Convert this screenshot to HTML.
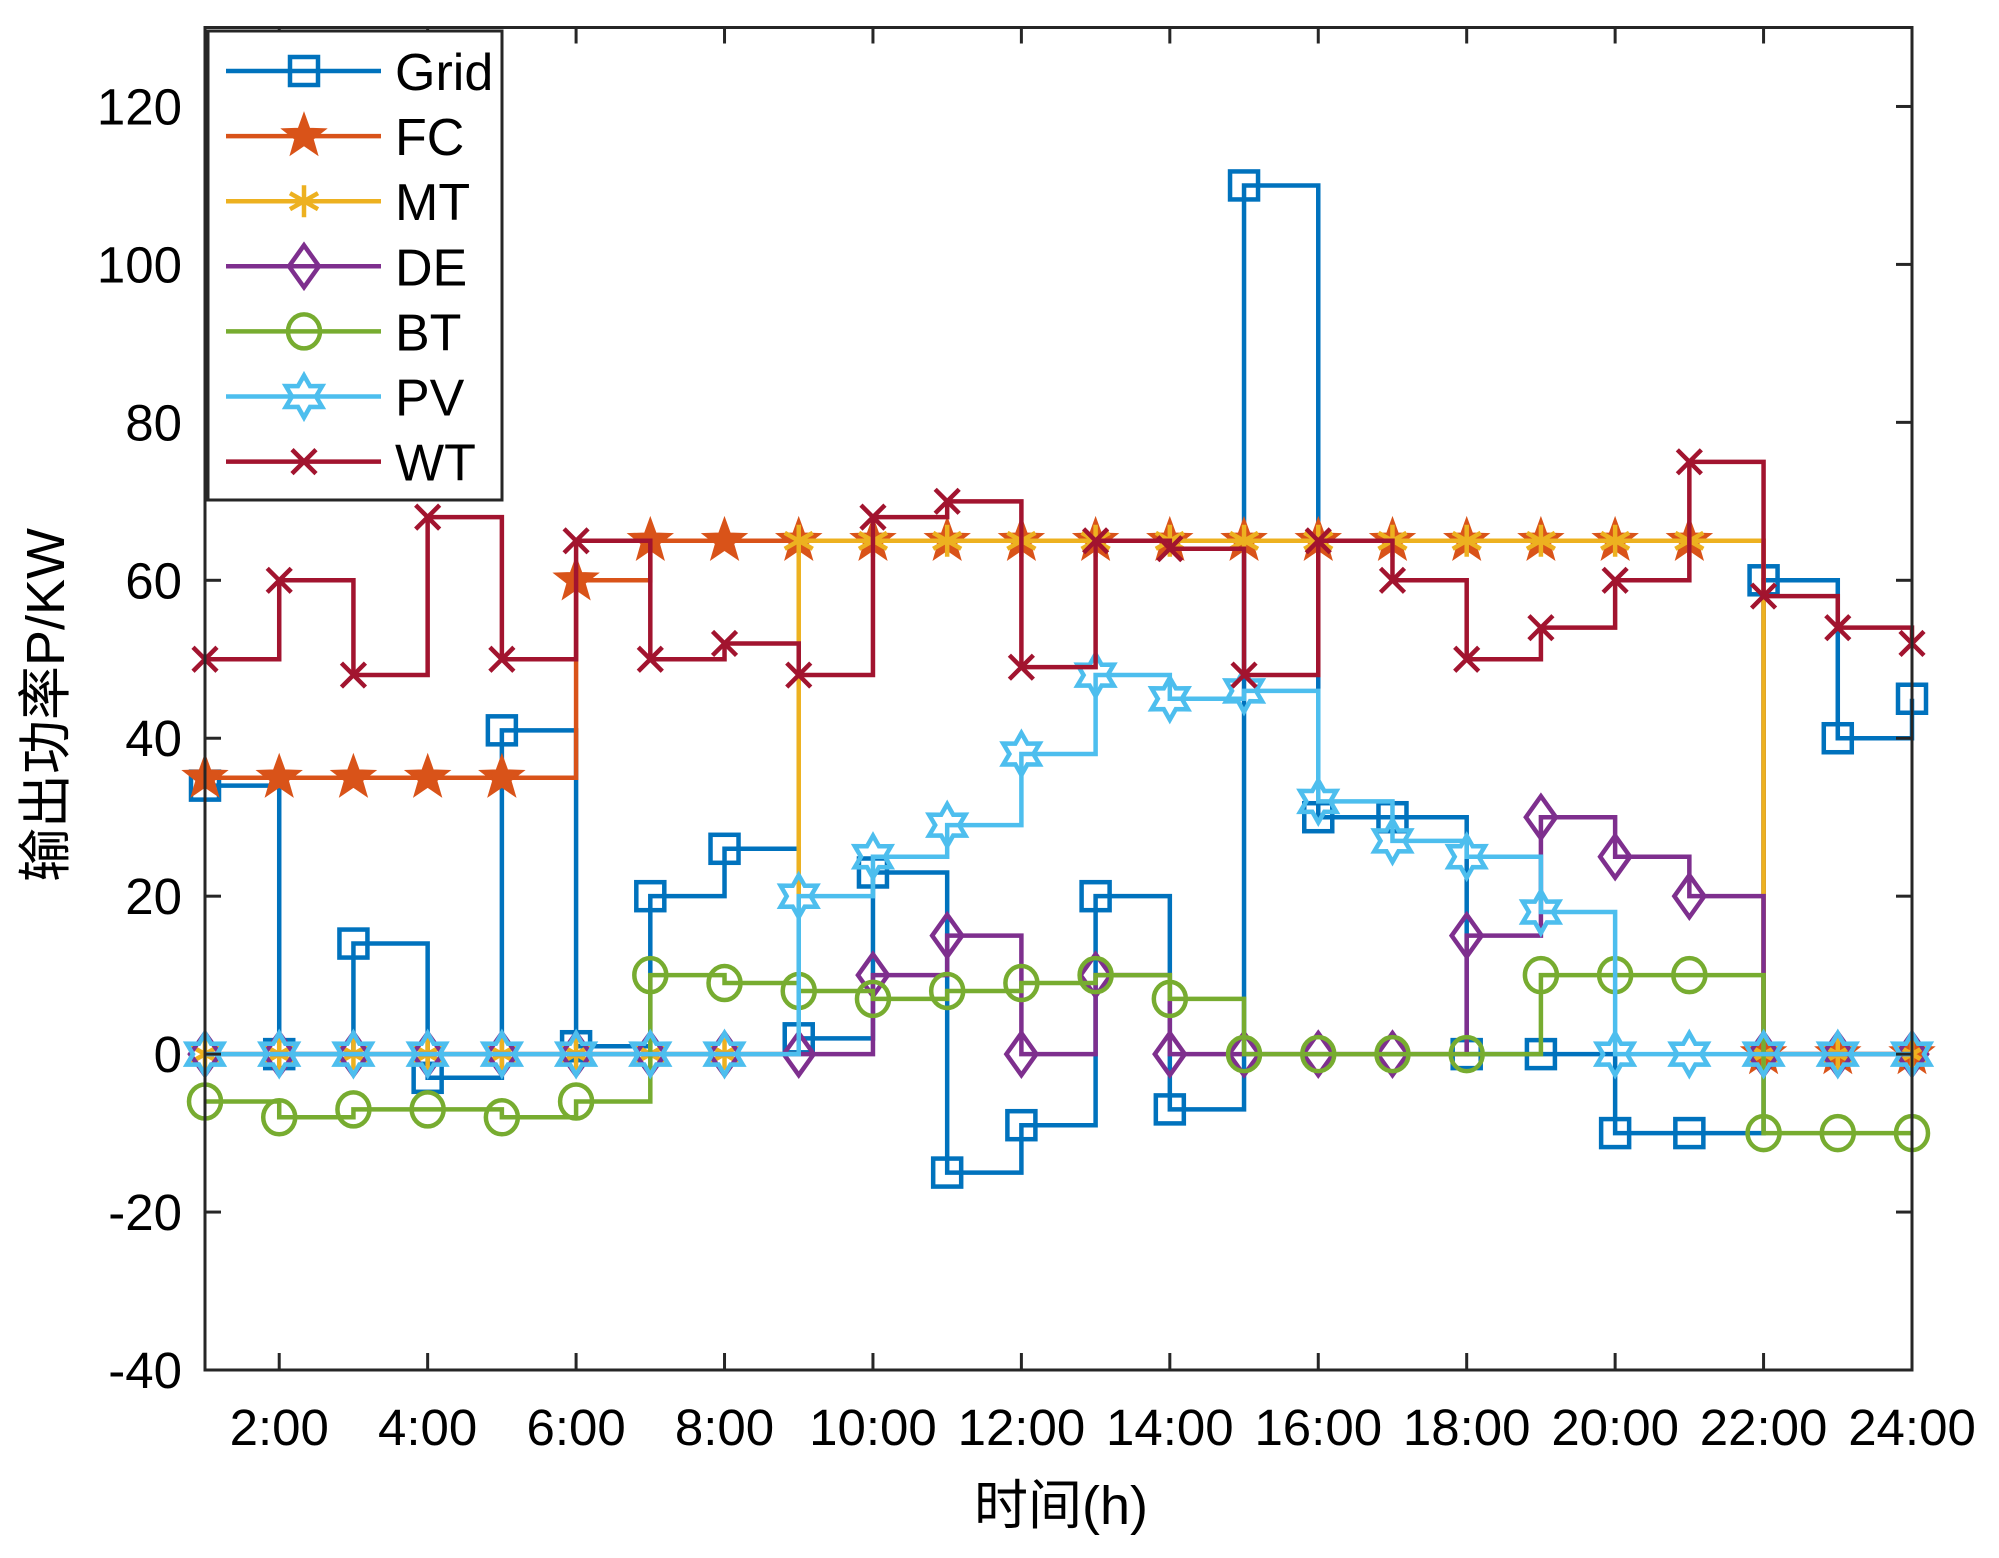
<!DOCTYPE html>
<html><head><meta charset="utf-8">
<style>
html,body{margin:0;padding:0;background:#fff;}
svg{display:block;}
text{font-family:"Liberation Sans","Noto Sans CJK SC",sans-serif;fill:#000;}
</style></head>
<body>
<svg id="chart" width="1999" height="1558" viewBox="0 0 1999 1558" xmlns="http://www.w3.org/2000/svg">
<rect x="0" y="0" width="1999" height="1558" fill="#fff"/>
<g id="series-layer"></g>
<g id="axes-layer"></g>
<g id="legend-layer"></g>
</svg>
<script>
const hours = [1,2,3,4,5,6,7,8,9,10,11,12,13,14,15,16,17,18,19,20,21,22,23,24];
const xTickHours = [2,4,6,8,10,12,14,16,18,20,22,24];
const xTickLabels = ["2:00","4:00","6:00","8:00","10:00","12:00","14:00","16:00","18:00","20:00","22:00","24:00"];
const yTicks = [-40,-20,0,20,40,60,80,100,120];
const seriesNames = ["Grid","FC","MT","DE","BT","PV","WT"];
const gridVals = [34,0,14,-3,41,1,20,26,2,23,-15,-9,20,-7,110,30,30,0,0,-10,-10,60,40,45];
const fcVals = [35,35,35,35,35,60,65,65,65,65,65,65,65,65,65,65,65,65,65,65,65,0,0,0];
const mtVals = [0,0,0,0,0,0,0,0,65,65,65,65,65,65,65,65,65,65,65,65,65,0,0,0];
const deVals = [0,0,0,0,0,0,0,0,0,10,15,0,10,0,0,0,0,15,30,25,20,0,0,0];
const btVals = [-6,-8,-7,-7,-8,-6,10,9,8,7,8,9,10,7,0,0,0,0,10,10,10,-10,-10,-10];
const pvVals = [0,0,0,0,0,0,0,0,20,25,29,38,48,45,46,32,27,25,18,0,0,0,0,0];
const wtVals = [50,60,48,68,50,65,50,52,48,68,70,49,65,64,48,65,60,50,54,60,75,58,54,52];

const NS = "http://www.w3.org/2000/svg";
const L = 205, R = 1912, T = 27.5, B = 1370;
const xMin = 1, xMax = 24, yMin = -40, yMax = 130;
function xs(h){ return L + (h - xMin) / (xMax - xMin) * (R - L); }
function ys(v){ return B - (v - yMin) / (yMax - yMin) * (B - T); }
function el(tag, attrs, parent){
  const e = document.createElementNS(NS, tag);
  for (const k in attrs) e.setAttribute(k, attrs[k]);
  parent.appendChild(e);
  return e;
}
const colors = {Grid:"#0072BD",FC:"#D95319",MT:"#EDB120",DE:"#7E2F8E",BT:"#77AC30",PV:"#4DBEEE",WT:"#A2142F"};
const markers = {Grid:"square",FC:"pentagram",MT:"asterisk",DE:"diamond",BT:"circle",PV:"hexagram",WT:"x"};
const dataMap = {Grid:gridVals,FC:fcVals,MT:mtVals,DE:deVals,BT:btVals,PV:pvVals,WT:wtVals};
const LW = 4.5;

function starPts(cx, cy, ro, ri, n, rot){
  let p = [];
  for (let i = 0; i < 2*n; i++){
    const r = i % 2 ? ri : ro;
    const a = rot + i * Math.PI / n;
    p.push((cx + r*Math.sin(a)).toFixed(1) + "," + (cy - r*Math.cos(a)).toFixed(1));
  }
  return p.join(" ");
}
function drawMarker(type, cx, cy, c, g){
  const sw = 4.5;
  let m;
  if (type === "square") m = el("rect",{x:cx-14,y:cy-14,width:28,height:28,fill:"none",stroke:c,"stroke-width":sw},g);
  else if (type === "circle") m = el("ellipse",{cx:cx,cy:cy,rx:16,ry:17,fill:"none",stroke:c,"stroke-width":sw},g);
  else if (type === "diamond") m = el("polygon",{points:`${cx},${cy-21} ${cx+15},${cy} ${cx},${cy+21} ${cx-15},${cy}`,fill:"none",stroke:c,"stroke-width":sw},g);
  else if (type === "pentagram") m = el("polygon",{points:starPts(cx,cy,22,9,5,0),fill:c,stroke:c,"stroke-width":2},g);
  else if (type === "hexagram") m = el("polygon",{points:starPts(cx,cy,21,12,6,0),fill:"none",stroke:c,"stroke-width":sw},g);
  else if (type === "x") m = el("path",{d:`M${cx-12},${cy-12}L${cx+12},${cy+12}M${cx+12},${cy-12}L${cx-12},${cy+12}`,stroke:c,"stroke-width":sw,fill:"none"},g);
  else if (type === "asterisk") m = el("path",{d:`M${cx},${cy-16}L${cx},${cy+16}M${cx-14},${cy-8}L${cx+14},${cy+8}M${cx+14},${cy-8}L${cx-14},${cy+8}`,stroke:c,"stroke-width":sw,fill:"none"},g);
  return m;
}

const sl = document.getElementById("series-layer");
seriesNames.forEach(name => {
  const vals = dataMap[name], c = colors[name];
  const g = el("g", {}, sl);
  
  
  let d = "";
  hours.forEach((h, i) => {
    const x = xs(h), y = ys(vals[i]);
    if (i === 0) d += `M${x},${y}`;
    else d += `V${y}`;
    if (i < hours.length - 1) d += `H${xs(hours[i+1])}`;
  });
  const line = el("path", {d:d, fill:"none", stroke:c, "stroke-width":LW}, g);
  
  
  hours.forEach((h, i) => {
    const m = drawMarker(markers[name], xs(h), ys(vals[i]), c, g);
    
    
  });
});

const al = document.getElementById("axes-layer");
const box = el("rect", {x:L, y:T, width:R-L, height:B-T, fill:"none", stroke:"#262626", "stroke-width":3}, al);


yTicks.forEach(v => {
  const y = ys(v);
  el("line", {x1:L, y1:y, x2:L+16, y2:y, stroke:"#262626","stroke-width":3}, al);
  el("line", {x1:R, y1:y, x2:R-16, y2:y, stroke:"#262626","stroke-width":3}, al);
  const t = el("text", {x:182, y:y+18, "text-anchor":"end", "font-size":51}, al);
  t.textContent = String(v);
  
  
});
xTickHours.forEach((h, i) => {
  const x = xs(h);
  el("line", {x1:x, y1:B, x2:x, y2:B-17, stroke:"#262626","stroke-width":3}, al);
  el("line", {x1:x, y1:T, x2:x, y2:T+16, stroke:"#262626","stroke-width":3}, al);
  const t = el("text", {x:x, y:1445, "text-anchor":"middle", "font-size":51}, al);
  t.textContent = xTickLabels[i];
  
  
});
const xt = el("text", {x:1061, y:1524, "text-anchor":"middle", "font-size":54}, al);
xt.textContent = "时间(h)";


const yt = el("text", {x:0, y:0, "text-anchor":"middle", "font-size":54, transform:"translate(64,705) rotate(-90)"}, al);
yt.textContent = "输出功率P/KW";



const ll = document.getElementById("legend-layer");
const lb = el("rect", {x:208, y:31, width:294, height:469, fill:"#fff", stroke:"#262626", "stroke-width":3}, ll);


seriesNames.forEach((name, i) => {
  const y = 71 + i * 65.1;
  const g = el("g", {}, ll);
  
  
  el("line", {x1:226, y1:y, x2:381, y2:y, stroke:colors[name], "stroke-width":LW}, g);
  drawMarker(markers[name], 304, y, colors[name], g);
  const t = el("text", {x:395, y:y+19, "font-size":52}, g);
  t.textContent = name;
});
</script>
</body></html>
